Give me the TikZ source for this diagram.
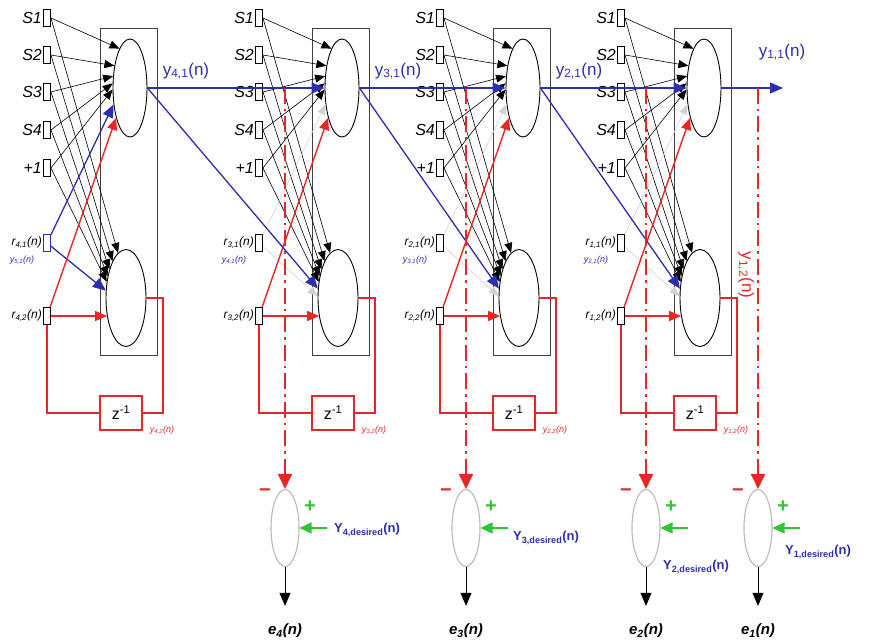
\documentclass[tikz,border=0pt]{standalone}
\usepackage{fontspec}
\setmainfont{Liberation Sans}
\usetikzlibrary{arrows.meta,shapes.geometric}

\definecolor{netblue}{RGB}{45,45,175}
\definecolor{netred}{RGB}{232,38,38}
\definecolor{netgreen}{RGB}{50,195,50}

\begin{document}
\begin{tikzpicture}[
  x=1pt,y=-1pt,
  every node/.style={inner sep=1pt},
  tip/.style={-{Triangle[length=10pt,width=8pt]}},
  bigtip/.style={-{Triangle[length=13pt,width=11pt]}},
  redtip/.style={-{Triangle[length=12pt,width=10pt]}},
  inbox/.style={draw,line width=0.9pt,minimum width=7pt,minimum height=17pt,inner sep=0pt},
  cell/.style={draw,ellipse,line width=0.9pt,inner sep=0pt},
  layer/.style={draw,line width=1pt,black!75,minimum width=57pt,minimum height=327pt,anchor=north west},
  wire/.style={tip,black,line width=0.6pt},
  fwd/.style={bigtip,netblue,line width=1.3pt},
  back/.style={netred,line width=1.4pt},
  ghost/.style={tip,gray!35,line width=0.6pt},
  delay/.style={draw,netred,line width=1.4pt,minimum width=42pt,minimum height=34pt,text=black,font=\fontsize{16}{16}\selectfont},
  drop/.style={netred,line width=2.2pt,dash pattern=on 16pt off 5pt on 2.5pt off 5pt,-{Triangle[length=15pt,width=14pt]}},
  sum/.style={draw,ellipse,gray!55,line width=1.1pt,minimum width=28pt,minimum height=77pt},
  slab/.style={font=\itshape\fontsize{16}{16}\selectfont},
  rlab/.style={font=\itshape\fontsize{12}{12}\selectfont},
  ylab/.style={netblue,font=\fontsize{17}{17}\selectfont},
  tinylab/.style={font=\itshape\fontsize{9}{9}\selectfont},
  dlab/.style={netblue,font=\bfseries\fontsize{13}{13}\selectfont},
  elab/.style={font=\bfseries\itshape\fontsize{15}{15}\selectfont},
  sign/.style={font=\bfseries\fontsize{20}{20}\selectfont}
]
  \useasboundingbox (0,0) rectangle (880,644);

  % one recurrent layer per stage
  \foreach \i/\B/\k/\kk in {1/100/4/5,2/312/3/4,3/493/2/3,4/674/1/2}{
    \node[layer] (box\i) at (\B,28) {};
    \node[cell,minimum width=34pt,minimum height=98pt] (top\i) at (\B+30,88) {};
    \node[cell,minimum width=40pt,minimum height=97pt] (bot\i) at (\B+26,298) {};
    % unit delay loop
    \node[delay] (z\i) at (\B+21,413) {z\textsuperscript{-1}};
    \coordinate (turn\i) at (\B+63,298);
    \draw[back] (z\i.east) -| (turn\i) -- (bot\i.east);
    % sensor inputs and bias
    \foreach \j/\y/\t/\a/\b in {1/18/S1/105/100,2/55/S2/125/110,3/92/S3/145/120,4/130/S4/165/130,5/168/+1/185/140}{
      \node[inbox,label={[slab]left:\t}] (in\i\j) at (\B-53,\y) {};
      \draw[wire] (in\i\j.east) -- (top\i.\a);
      \draw[wire] (in\i\j.east) -- (bot\i.\b);
    }
    \ifnum\i=1
      \node[inbox,draw=netblue,label={[rlab]left:r\textsubscript{\k,1}(n)}] (ra\i) at (\B-53,243) {};
      \draw[fwd] (ra\i) -- (top\i.225);
      \draw[fwd] (ra\i) -- (bot\i.160);
    \else
      \node[inbox,label={[rlab]left:r\textsubscript{\k,1}(n)}] (ra\i) at (\B-53,243) {};
      \draw[ghost] (ra\i) -- (top\i.225);
      \draw[ghost] (ra\i) -- (bot\i.175);
    \fi
    \node[tinylab,netblue] (fb\i) at (\B-78,260) {y\textsubscript{\kk,1}(n)};
    \node[inbox,label={[rlab]left:r\textsubscript{\k,2}(n)}] (rb\i) at (\B-53,316) {};
    \draw[back,redtip] (rb\i) -- (top\i.245);
    \draw[back,redtip] (rb\i.east) -- (rb\i.east -| bot\i.225);
    \draw[back] (z\i.west) -| (rb\i.south);
    \node[tinylab,netred] (fbz\i) at (\B+62,430) {y\textsubscript{\k,2}(n)};
    \ifnum\i<4
      \node[ylab] (ylab\i) at (\B+86,71) {y\textsubscript{\k,1}(n)};
    \fi
  }

  % outputs passed on to the next stage
  \foreach \i/\j in {1/2,2/3,3/4}{
    \draw[fwd] (top\i.east) -- (top\j.west);
    \draw[fwd] (top\i.east) -- (bot\j.155);
  }
  \coordinate (out) at (783,88);
  \draw[fwd] (top4.east) -- (out);
  \node[ylab] (ylab4) at (782,52) {y\textsubscript{1,1}(n)};
  \node[ylab,netred,rotate=-90] (yrec) at (746,275) {y\textsubscript{1,2}(n)};

  % error terms
  \foreach \x/\k/\lx/\ly in {285/4/333/530,466/3/512/538,646/2/662/567,758/1/784/552}{
    \coordinate (tap\k) at (\x,88);
    \node[sum] (err\k) at (\x,528) {};
    \draw[drop] (tap\k) -- (err\k.north);
    \node[sign,netred] (minus\k) at (\x-20,493) {−};
    \node[sign,netgreen] (plus\k) at (\x+25,507) {+};
    \coordinate (feed\k) at (\x+42,528);
    \draw[netgreen,line width=1.6pt,-{Triangle[length=12pt,width=11pt]}] (feed\k) -- (err\k.east);
    \node[dlab,anchor=west] (want\k) at (\lx,\ly) {Y\textsubscript{\k,desired}(n)};
    \node[elab] (e\k) at (\x,631) {e\textsubscript{\k}(n)};
    \draw[black,line width=1pt,-{Triangle[length=13pt,width=11pt]},shorten >=17pt] (err\k.south) -- (e\k.north);
  }
\end{tikzpicture}
\end{document}
